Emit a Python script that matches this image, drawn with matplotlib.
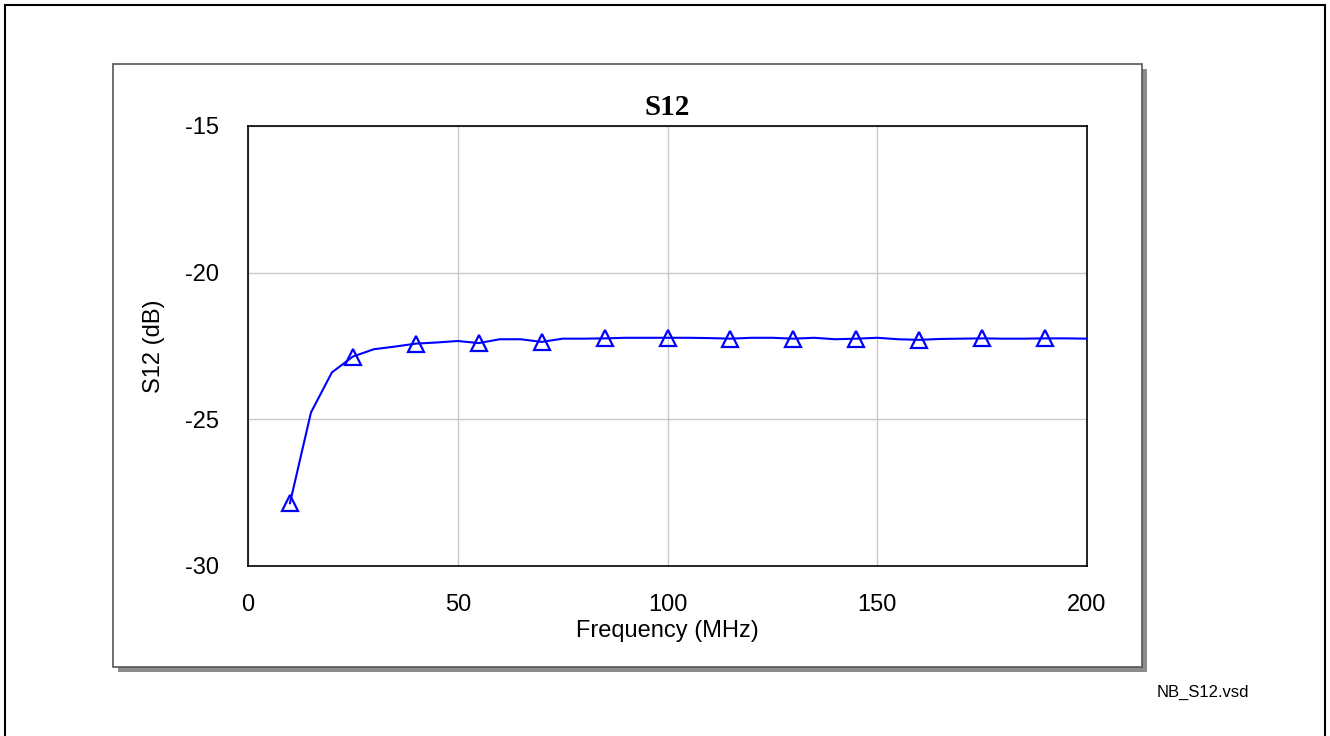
import matplotlib
matplotlib.use("Agg")
import matplotlib.pyplot as plt
from matplotlib.patches import Rectangle

plt.rcParams["axes.unicode_minus"] = False

# S12 sweep (MHz, dB)
freq = [10, 15, 20, 25, 30, 35, 40, 45, 50, 55, 60, 65, 70, 75, 80, 85, 90, 95,
        100, 105, 110, 115, 120, 125, 130, 135, 140, 145, 150, 155, 160, 165,
        170, 175, 180, 185, 190, 195, 200]
s12 = [-27.86, -24.77, -23.40, -22.86, -22.61, -22.52, -22.42, -22.38, -22.33,
       -22.40, -22.27, -22.27, -22.36, -22.25, -22.25, -22.24, -22.22, -22.22,
       -22.22, -22.22, -22.23, -22.25, -22.22, -22.22, -22.25, -22.22, -22.27,
       -22.25, -22.22, -22.27, -22.29, -22.26, -22.25, -22.24, -22.25, -22.25,
       -22.24, -22.24, -22.25]
xticks = [0, 50, 100, 150, 200]
yticks = [-30, -25, -20, -15]

W, H = 1330, 736
fig = plt.figure(figsize=(W / 100, H / 100), dpi=100)
fig.patch.set_facecolor("white")

def px_rect(x0, y0, x1, y1, **kw):
    # rectangle given in image pixels (top-left origin)
    return Rectangle((x0 / W, 1 - y1 / H), (x1 - x0) / W, (y1 - y0) / H,
                     transform=fig.transFigure, zorder=-5, **kw)

# outer page frame
fig.patches.append(px_rect(5, 5, 1325, 745, fill=False, edgecolor="black", lw=1.5))
# chart frame with drop shadow
fig.patches.append(px_rect(118, 69, 1147, 672, facecolor="#8c8c8c", edgecolor="none"))
fig.patches.append(px_rect(113, 64, 1142, 667, facecolor="white", edgecolor="#555555", lw=1.2))

ax = fig.add_axes([248 / W, 1 - 566 / H, (1087 - 248) / W, (566 - 126) / H])
ax.plot(freq, s12, color="#0000ff", lw=1.5, marker="^", markevery=slice(0, None, 3),
        markersize=11.5, markerfacecolor="none", markeredgecolor="#0000ff", mew=1.6,
        clip_on=False, zorder=3)

ax.set_xlim(0, 200)
ax.set_ylim(-30, -15)
ax.set_xticks(xticks)
ax.set_yticks(yticks)
ax.grid(True, color="#c8c8c8", lw=1)
ax.set_axisbelow(True)
for sp in ax.spines.values():
    sp.set_linewidth(1.2)
    sp.set_color("black")

sans = "Liberation Sans"
ax.tick_params(length=0, labelsize=17, pad=20)
ax.tick_params(axis="y", pad=21)
for lab in ax.get_xticklabels() + ax.get_yticklabels():
    lab.set_fontfamily(sans)

ax.set_xlabel("Frequency (MHz)", fontsize=17, family=sans, labelpad=3)
ax.set_ylabel("S12 (dB)", fontsize=17, family=sans, labelpad=14)
ax.set_title("S12", fontsize=21, family="Liberation Serif", fontweight="bold", pad=8)

fig.text(1157 / W, 1 - 692 / H, "NB_S12.vsd", fontsize=12, family=sans, va="center")

fig.savefig("out.png", dpi=100)
